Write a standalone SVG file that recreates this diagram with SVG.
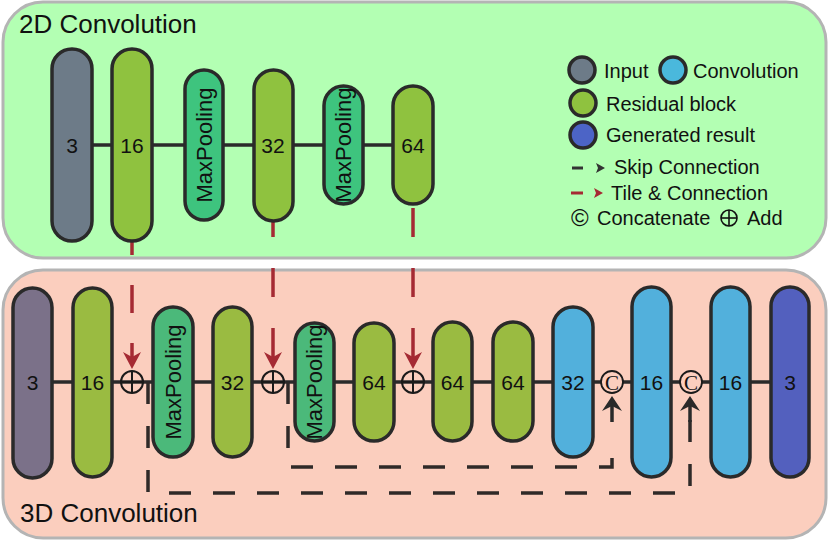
<svg xmlns="http://www.w3.org/2000/svg" width="830" height="542" viewBox="0 0 830 542">
<defs>
<style>
text{font-family:"Liberation Sans",Arial,sans-serif;fill:#111}
.num{font-size:21px;text-anchor:middle}
.mp{font-size:22px;text-anchor:middle}
.title{font-size:26px}
.leg{font-size:20px}
.node{stroke:#2a2a2a;stroke-width:3.5}
.link{stroke:#2a2a2a;stroke-width:3.5;fill:none}
.red{stroke:#a52a33;stroke-width:3.5;fill:none}
.skip{stroke:#2f2a28;stroke-width:3.5;fill:none;stroke-dasharray:22 22}
.in2{fill:#6d7b88}.res2{fill:#8fc23f}.mp2{fill:#3ec47e}
.in3{fill:#7b7189}.res3{fill:#9abb41}.mp3{fill:#4bb97a}
.conv{fill:#52b0dc}.gen{fill:#5360be}
.op{fill:none;stroke:#1a1a1a;stroke-width:2}
.cat{fill:#fbcebe;stroke:#1a1a1a;stroke-width:1.8}
</style>
</defs>

<g id="panel-2d">
<rect x="3" y="2" width="823" height="256" rx="40" fill="#b3ffb3" stroke="#b4b4b4" stroke-width="3"/>
<text class="title" x="19" y="33">2D Convolution</text>
</g>
<g id="panel-3d">
<rect x="3" y="270" width="823" height="268" rx="40" fill="#fbcebe" stroke="#b4b4b4" stroke-width="3"/>
<text class="title" x="20" y="522">3D Convolution</text>
</g>

<g id="connectors">
<line class="link" x1="72" y1="145" x2="413" y2="145"/>
<line class="link" x1="32" y1="382" x2="790" y2="382"/>
<line class="red" x1="132" y1="241" x2="132" y2="255"/>
<line class="red" x1="132" y1="285" x2="132" y2="313"/>
<line class="red" x1="132" y1="343" x2="132" y2="358"/>
<path d="M123,352 L132,369 L141,352 L132,357 Z" fill="#a52a33"/>
<line class="red" x1="273" y1="221" x2="273" y2="237"/>
<line class="red" x1="273" y1="268" x2="273" y2="297"/>
<line class="red" x1="273" y1="328" x2="273" y2="358"/>
<path d="M264,352 L273,369 L282,352 L273,357 Z" fill="#a52a33"/>
<line class="red" x1="413" y1="208" x2="413" y2="237"/>
<line class="red" x1="413" y1="268" x2="413" y2="297"/>
<line class="red" x1="413" y1="328" x2="413" y2="358"/>
<path d="M404,352 L413,369 L422,352 L413,357 Z" fill="#a52a33"/>
<path class="skip" d="M148,382 V493 H690 V420"/>
<line class="link" x1="690" y1="422" x2="690" y2="405"/>
<path d="M680,411 L690,396 L700,411 L690,406 Z" fill="#2a2a2a"/>
<path class="skip" d="M288,382 V467 H612 V440"/>
<line class="link" x1="612" y1="422" x2="612" y2="405"/>
<path d="M602,411 L612,396 L622,411 L612,406 Z" fill="#2a2a2a"/>
</g>

<g id="n2d-input"><rect class="node in2" x="52" y="49" width="40" height="192" rx="20"/><text class="num" x="72" y="152.5">3</text></g>
<g id="n2d-res16"><rect class="node res2" x="112" y="49" width="40" height="192" rx="20"/><text class="num" x="132" y="152.5">16</text></g>
<g id="n2d-mp1"><rect class="node mp2" x="185" y="70" width="38" height="150" rx="19"/><text class="mp" transform="translate(204,145) rotate(-90)" x="0" y="7.5">MaxPooling</text></g>
<g id="n2d-res32"><rect class="node res2" x="254" y="70" width="39" height="151" rx="19.5"/><text class="num" x="273" y="152.5">32</text></g>
<g id="n2d-mp2"><rect class="node mp2" x="324" y="86" width="39" height="118" rx="19.5"/><text class="mp" transform="translate(343.5,145) rotate(-90)" x="0" y="7.5">MaxPooling</text></g>
<g id="n2d-res64"><rect class="node res2" x="393" y="86" width="40" height="118" rx="20"/><text class="num" x="413" y="152.5">64</text></g>

<g id="n3d-input"><rect class="node in3" x="13" y="288" width="39" height="190" rx="19.5"/><text class="num" x="32.5" y="389.5">3</text></g>
<g id="n3d-res16"><rect class="node res3" x="73" y="288" width="39" height="189" rx="19.5"/><text class="num" x="92.5" y="389.5">16</text></g>
<g id="add1"><circle class="op" cx="132" cy="382" r="11"/><line class="op" x1="132" y1="371" x2="132" y2="393"/><line class="op" x1="121" y1="382" x2="143" y2="382"/></g>
<g id="n3d-mp1"><rect class="node mp3" x="153" y="307" width="40" height="150" rx="20"/><text class="mp" transform="translate(173,382) rotate(-90)" x="0" y="7.5">MaxPooling</text></g>
<g id="n3d-res32"><rect class="node res3" x="213" y="307" width="39" height="150" rx="19.5"/><text class="num" x="232.5" y="389.5">32</text></g>
<g id="add2"><circle class="op" cx="273" cy="382" r="11"/><line class="op" x1="273" y1="371" x2="273" y2="393"/><line class="op" x1="262" y1="382" x2="284" y2="382"/></g>
<g id="n3d-mp2"><rect class="node mp3" x="295" y="323" width="39" height="118" rx="19.5"/><text class="mp" transform="translate(314.5,382) rotate(-90)" x="0" y="7.5">MaxPooling</text></g>
<g id="n3d-res64a"><rect class="node res3" x="354" y="323" width="40" height="118" rx="20"/><text class="num" x="374" y="389.5">64</text></g>
<g id="add3"><circle class="op" cx="413" cy="382" r="11"/><line class="op" x1="413" y1="371" x2="413" y2="393"/><line class="op" x1="402" y1="382" x2="424" y2="382"/></g>
<g id="n3d-res64b"><rect class="node res3" x="433" y="322" width="39" height="119" rx="19.5"/><text class="num" x="452.5" y="389.5">64</text></g>
<g id="n3d-res64c"><rect class="node res3" x="493" y="322" width="40" height="119" rx="20"/><text class="num" x="513" y="389.5">64</text></g>
<g id="n3d-conv32"><rect class="node conv" x="553" y="307" width="40" height="150" rx="20"/><text class="num" x="573" y="389.5">32</text></g>
<g id="cat1"><circle class="cat" cx="612" cy="382" r="11"/><text x="612" y="390" text-anchor="middle" style="font-family:'Liberation Serif',serif;font-size:21px">C</text></g>
<g id="n3d-conv16a"><rect class="node conv" x="632" y="287" width="39" height="190" rx="19.5"/><text class="num" x="651.5" y="389.5">16</text></g>
<g id="cat2"><circle class="cat" cx="691" cy="382" r="11"/><text x="691" y="390" text-anchor="middle" style="font-family:'Liberation Serif',serif;font-size:21px">C</text></g>
<g id="n3d-conv16b"><rect class="node conv" x="711" y="287" width="39" height="190" rx="19.5"/><text class="num" x="730.5" y="389.5">16</text></g>
<g id="n3d-out"><rect class="node gen" x="771" y="287" width="38" height="190" rx="19"/><text class="num" x="790" y="389.5">3</text></g>

<g id="legend">
<circle cx="582" cy="70" r="13" fill="#6d7b88" stroke="#2a2a2a" stroke-width="3.5"/>
<text class="leg" x="604" y="78">Input</text>
<circle cx="673" cy="70" r="13" fill="#4ab8dc" stroke="#2a2a2a" stroke-width="3.5"/>
<text class="leg" x="693" y="78">Convolution</text>
<circle cx="583" cy="103" r="13" fill="#8fc23f" stroke="#2a2a2a" stroke-width="3.5"/>
<text class="leg" x="606" y="111">Residual block</text>
<circle cx="583" cy="135" r="13" fill="#4c64c6" stroke="#2a2a2a" stroke-width="3.5"/>
<text class="leg" x="606" y="142">Generated result</text>
<line x1="572" y1="168" x2="583" y2="168" stroke="#333" stroke-width="3"/>
<path d="M596,163 L605,168 L596,173 L598,168 Z" fill="#333"/>
<text class="leg" x="614" y="174">Skip Connection</text>
<line x1="571" y1="193" x2="583" y2="193" stroke="#a52a33" stroke-width="3"/>
<path d="M594,188 L603,193 L594,198 L596,193 Z" fill="#a52a33"/>
<text class="leg" x="611" y="200">Tile &amp; Connection</text>
<text x="571" y="226" style="font-size:24px">©</text>
<text class="leg" x="597" y="225">Concatenate</text>
<circle cx="729" cy="218" r="8" fill="none" stroke="#111" stroke-width="1.6"/>
<line x1="729" y1="210" x2="729" y2="226" stroke="#111" stroke-width="1.6"/>
<line x1="721" y1="218" x2="737" y2="218" stroke="#111" stroke-width="1.6"/>
<text class="leg" x="747" y="225">Add</text>
</g>
</svg>
